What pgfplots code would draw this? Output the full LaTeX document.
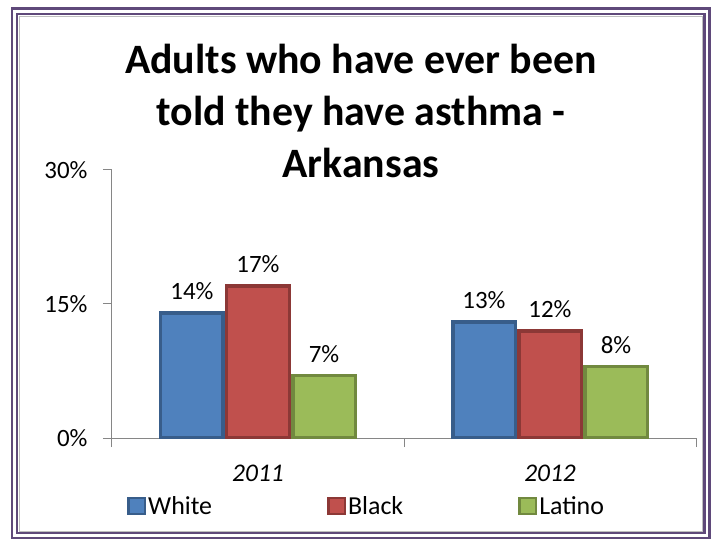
\documentclass[border=0pt]{standalone}
\usepackage{fontspec}
\setmainfont{Carlito}
\usepackage{pgfplots}
\pgfplotsset{compat=1.18}
\definecolor{wfill}{HTML}{4F81BD}
\definecolor{wdraw}{HTML}{385D8A}
\definecolor{bfill}{HTML}{C0504D}
\definecolor{bdraw}{HTML}{8C3836}
\definecolor{lfill}{HTML}{9BBB59}
\definecolor{ldraw}{HTML}{71893F}
\definecolor{axisgray}{HTML}{868686}
\definecolor{framepurple}{HTML}{5F497A}
\begin{document}
\begin{tikzpicture}
\useasboundingbox (-112bp,-104bp) rectangle (600bp,438bp);
\draw[framepurple, line width=2.4bp] (-100bp,429.5bp) rectangle (597.5bp,-100bp);
\draw[framepurple, line width=2.4bp] (-95bp,424bp) rectangle (592.5bp,-95bp);
\draw[black!25, line width=0.8bp] (-92.5bp,421.5bp) rectangle (590bp,-93bp);
\node[align=center, font=\fontsize{42}{52}\selectfont\bfseries] at (249bp,327bp)
  {Adults who have ever been\\told they have asthma -\\Arkansas};
\begin{axis}[
  scale only axis, width=584bp, height=268bp,
  xmin=-0.5, xmax=1.5, ymin=0, ymax=30,
  /pgf/number format/assume math mode=true,
  axis x line*=bottom, axis y line*=left,
  axis line style={color=axisgray, line width=1bp},
  tick align=outside, major tick length=9bp,
  tick style={color=axisgray, line width=1bp},
  ytick={0,15,30},
  yticklabel={\pgfmathprintnumber{\tick}\%},
  yticklabel style={font=\fontsize{25}{30}\selectfont, xshift=-12bp},
  xtick={-0.5,0.5,1.5}, xticklabels={},
  extra x ticks={0,1}, extra x tick labels={\textit{2011},\textit{2012}},
  extra x tick style={major tick length=0pt, tick label style={font=\fontsize{25.5}{30}\selectfont, yshift=-24bp}},
  ybar=3.5bp, bar width=62.5bp,
  nodes near coords={\pgfmathprintnumber{\pgfplotspointmeta}\%},
  every node near coord/.append style={font=\fontsize{25}{30}\selectfont, color=black, yshift=8bp},
  legend image code/.code={\draw[#1, line width=2.5bp] (0bp,-8bp) rectangle (16.5bp,8bp);},
  legend columns=3,
  legend style={draw=none, fill=none, at={(0.436,-0.254)}, anchor=center,
    font=\fontsize{26}{31}\selectfont,
    /tikz/every even column/.append style={column sep=113bp}},
]
\addplot[fill=wfill, draw=wdraw, line width=3.5bp] coordinates {(0,14) (1,13)};
\addplot[fill=bfill, draw=bdraw, line width=3.5bp] coordinates {(0,17) (1,12)};
\addplot[fill=lfill, draw=ldraw, line width=3.5bp] coordinates {(0,7) (1,8)};
\legend{White,Black,Latino}
\end{axis}
\end{tikzpicture}
\end{document}
